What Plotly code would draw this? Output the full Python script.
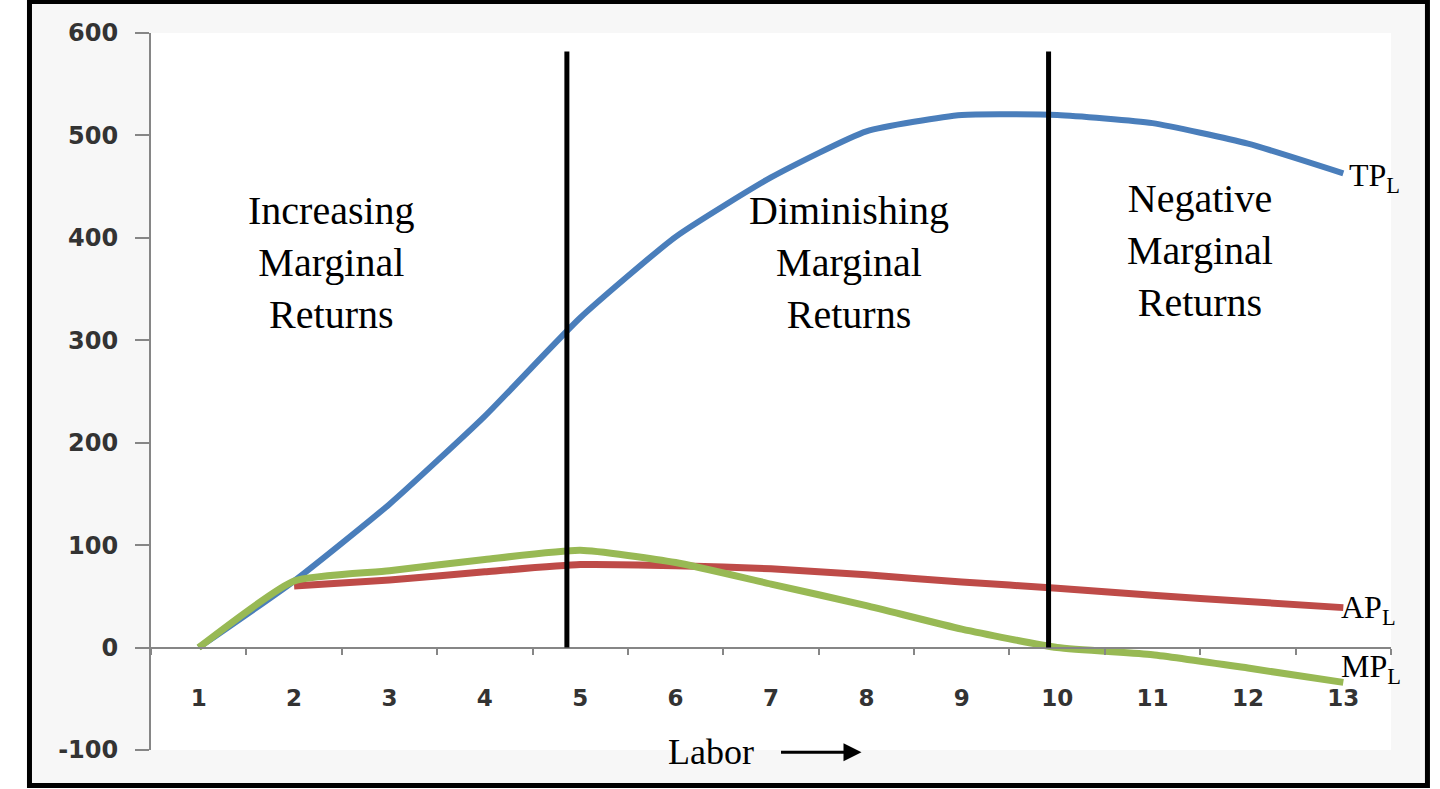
import plotly.graph_objects as go

# values
labor = [str(i) for i in range(1, 14)]
total_product = [0, 65, 140, 226, 322, 401, 459, 504, 520, 520, 512, 492, 463]
average_product = [None, 60, 66, 74, 81, 80, 77, 71, 64, 58, 51, 45, 39]
marginal_product = [0, 65, 75, 86, 95, 83, 62, 41, 18, 0, -7, -20, -34]
stage_bounds = [4.86, 9.91]  # labor where the stages change
stage_top = 582
stage_names = ["Increasing<br>Marginal<br>Returns",
               "Diminishing<br>Marginal<br>Returns",
               "Negative<br>Marginal<br>Returns"]
y_ticks = [-100, 0, 100, 200, 300, 400, 500, 600]

BLUE = "#4a7ebb"
RED = "#be4b48"
GREEN = "#98b954"
AXIS = "#868686"
SERIF = "Liberation Serif"


def idx(l):
    # category axis works in index units, labor 1 -> 0
    return l - 1


fig = go.Figure()
fig.add_trace(go.Scatter(x=labor, y=total_product, mode="lines",
                         line=dict(color=BLUE, width=6, shape="spline", smoothing=0.5)))
fig.add_trace(go.Scatter(x=labor, y=average_product, mode="lines",
                         line=dict(color=RED, width=7, shape="spline", smoothing=0.5)))
fig.add_trace(go.Scatter(x=labor, y=marginal_product, mode="lines",
                         line=dict(color=GREEN, width=7, shape="spline", smoothing=0.5)))

# frame + white plot area
fig.add_shape(type="rect", xref="paper", yref="paper", x0=-0.098, x1=1.0294, y0=-0.0495, y1=1.0439,
              line=dict(color="black", width=5), fillcolor="#f7f7f7", layer="below")
fig.add_shape(type="rect", xref="paper", yref="paper", x0=0, x1=1, y0=0, y1=1,
              line=dict(width=0), fillcolor="white", layer="below")

for b in stage_bounds:
    fig.add_shape(type="line", xref="x", yref="y", x0=idx(b), x1=idx(b), y0=0, y1=stage_top,
                  line=dict(color="black", width=5))

# stage labels
stage_pos = [(2.39, 376), (7.82, 376), (11.5, 388)]
for name, (lx, ly) in zip(stage_names, stage_pos):
    fig.add_annotation(x=idx(lx), y=ly, text=name, showarrow=False,
                       font=dict(family=SERIF, size=40, color="black"))

# curve labels at line ends
end = len(labor) - 1
fig.add_annotation(x=end, y=total_product[-1], text="TP<sub>L</sub>", showarrow=False,
                   xanchor="left", xshift=4, yshift=-4, font=dict(family=SERIF, size=32, color="black"))
fig.add_annotation(x=end, y=average_product[-1], text="AP<sub>L</sub>", showarrow=False,
                   xanchor="left", xshift=-4, yshift=-2, font=dict(family=SERIF, size=32, color="black"))
fig.add_annotation(x=end, y=marginal_product[-1], text="MP<sub>L</sub>", showarrow=False,
                   xanchor="left", xshift=-4, yshift=14, font=dict(family=SERIF, size=32, color="black"))

# axis caption with arrow
fig.add_annotation(xref="paper", yref="paper", x=0.4516, y=-0.003, yanchor="middle", text="Labor",
                   showarrow=False, font=dict(family=SERIF, size=36, color="black"))
fig.add_annotation(xref="paper", yref="paper", x=0.573, y=-0.003, ax=-82, ay=0, text="",
                   showarrow=True, arrowhead=2, arrowsize=1.2, arrowwidth=3, arrowcolor="black")

fig.update_xaxes(type="category", range=[-0.5, 12.5], anchor="free", position=1 / 7,
                 showline=True, linecolor=AXIS, linewidth=2, showgrid=False, zeroline=False,
                 tickson="boundaries", ticks="outside", ticklen=6, tickwidth=2, tickcolor=AXIS,
                 ticklabelstandoff=30,
                 tickfont=dict(family="DejaVu Sans", size=23, color="#333333", weight="bold"))
fig.update_yaxes(range=[-100, 600], tickvals=y_ticks, ticktext=[str(v) for v in y_ticks],
                 showline=True, linecolor=AXIS, linewidth=2,
                 showgrid=False, zeroline=False, ticks="outside", ticklen=14, tickwidth=2,
                 tickcolor=AXIS, ticklabelstandoff=12,
                 tickfont=dict(family="DejaVu Sans", size=24, color="#333333", weight="bold"))

fig.update_layout(width=1440, height=789, margin=dict(l=151, r=49, t=33, b=39),
                  paper_bgcolor="white", plot_bgcolor="rgba(0,0,0,0)", showlegend=False)

# page body margin would push the figure 8px down/right
fig.write_html("out.html", config={"displayModeBar": False},
               post_script="document.body.style.margin='0';")
